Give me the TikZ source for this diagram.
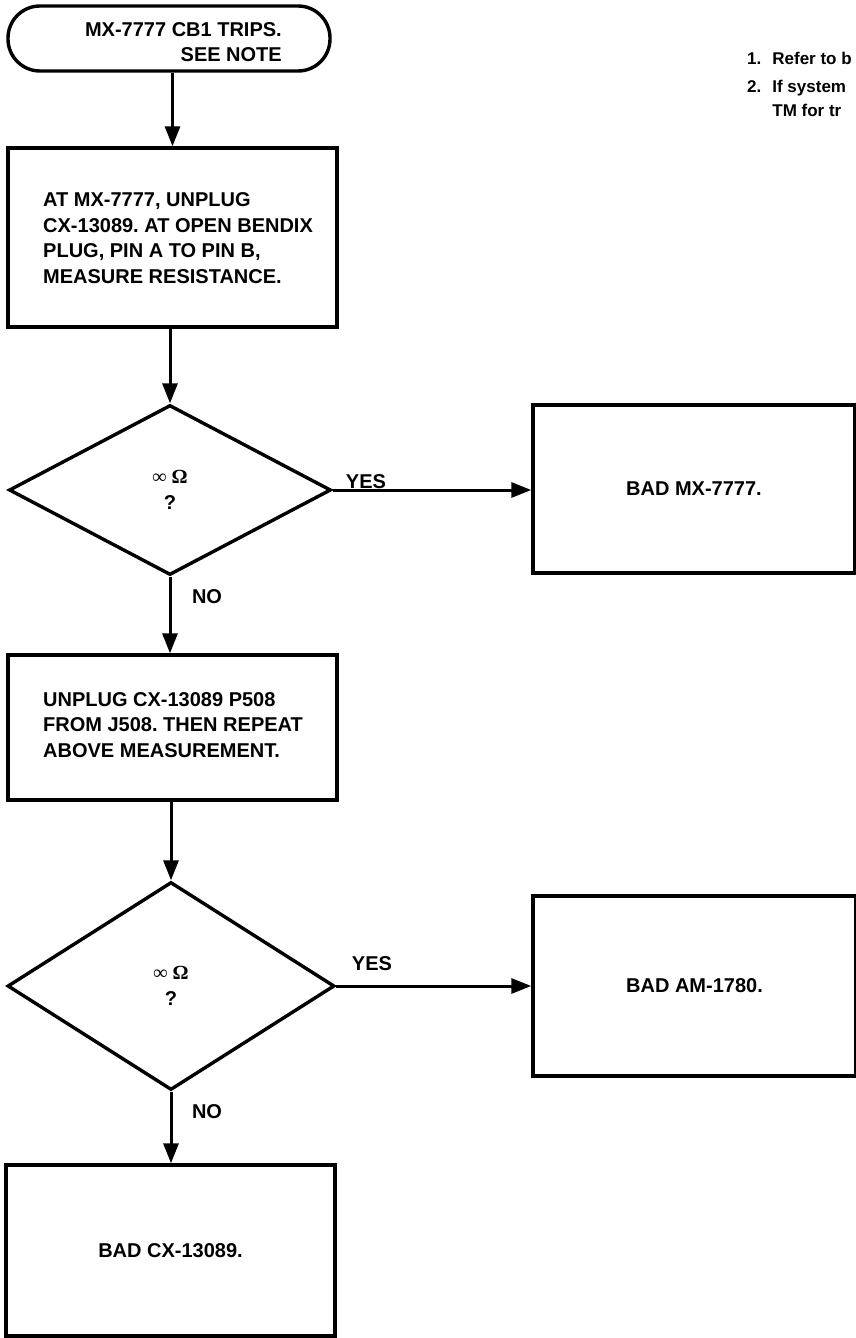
\documentclass[tikz,border=0pt]{standalone}
\usepackage{fontspec}
\setmainfont{Liberation Sans}
\newfontfamily\symfont{Liberation Serif}
\usetikzlibrary{shapes.geometric,arrows.meta}
\frenchspacing
\begin{document}
\frenchspacing
\begin{tikzpicture}[x=1pt,y=-1pt,
  txt/.style={font=\bfseries\fontsize{20}{25.5}\selectfont},
  box/.style={draw, rectangle, line width=3.4pt, inner sep=0pt, txt},
  term/.style={box, rounded corners=32pt},
  dec/.style={draw, diamond, line width=3.4pt, inner sep=0pt, align=center, txt},
  conn/.style={line width=3pt, -{Triangle[length=20pt,width=15pt]}},
  lab/.style={txt, inner sep=0pt},
  notefont/.style={font=\bfseries\fontsize{17}{24}\selectfont}]
\useasboundingbox (0,0) rectangle (856,1338);
\fill[white] (0,0) rectangle (856,1338);
\clip (0,0) rectangle (856,1338);

% start terminal
\node[term, minimum width=322pt, minimum height=65pt] (start) at (169,38.5) {};
\node[lab, anchor=east, align=right] (startt) at (282,42) {MX-7777 CB1 TRIPS.\\SEE NOTE};

% box 1
\node[box, minimum width=329pt, minimum height=179pt] (b1) at (172.5,237.5) {};
\node[lab, anchor=west, align=left] (b1t) at (43,238) {AT MX-7777, UNPLUG\\CX-13089. AT OPEN BENDIX\\PLUG, PIN A TO PIN B,\\MEASURE RESISTANCE.};

% decision 1
\node[dec, minimum width=322pt, minimum height=170pt] (d1) at (170,490) {{\symfont ∞ Ω}\\[0pt]?};

% bad MX
\node[box, minimum width=322pt, minimum height=168pt] (bmx) at (694,489) {BAD MX-7777.};

% box 2
\node[box, minimum width=329pt, minimum height=145pt] (b2) at (172.5,727.5) {};
\node[lab, anchor=west, align=left] (b2t) at (43,725) {UNPLUG CX-13089 P508\\FROM J508. THEN REPEAT\\ABOVE MEASUREMENT.};

% decision 2
\node[dec, minimum width=327pt, minimum height=208pt] (d2) at (171,986) {{\symfont ∞ Ω}\\[0pt]?};

% bad AM
\node[box, minimum width=323pt, minimum height=180pt] (bam) at (694.5,986) {BAD AM-1780.};

% bad CX
\node[box, minimum width=329pt, minimum height=171pt] (bcx) at (170.5,1250.5) {BAD CX-13089.};

% notes
\node[notefont, anchor=north west, inner sep=0pt] (notes) at (747,48)
  {\begin{tabular}{@{}l@{\hspace{11pt}}l@{}}1. & Refer to b\\[3pt] 2. & If system\\ & TM for tr\end{tabular}};

% connectors
\draw[conn] (b1.north |- start.south) -- (b1.north);
\draw[conn] (b1.south -| d1.north) -- (d1.north);
\draw[conn] (d1.east) -- (bmx.west |- d1.east);
\draw[conn] (d1.south) -- (d1.south |- b2.north);
\draw[conn] (b2.south -| d2.north) -- (d2.north);
\draw[conn] (d2.east) -- (bam.west |- d2.east);
\draw[conn] (d2.south) -- (d2.south |- bcx.north);

% labels
\node[lab] (yes1) at (366,482) {YES};
\node[lab] (no1) at (207,597) {NO};
\node[lab] (yes2) at (372,964) {YES};
\node[lab] (no2) at (207,1112) {NO};
\end{tikzpicture}
\end{document}
